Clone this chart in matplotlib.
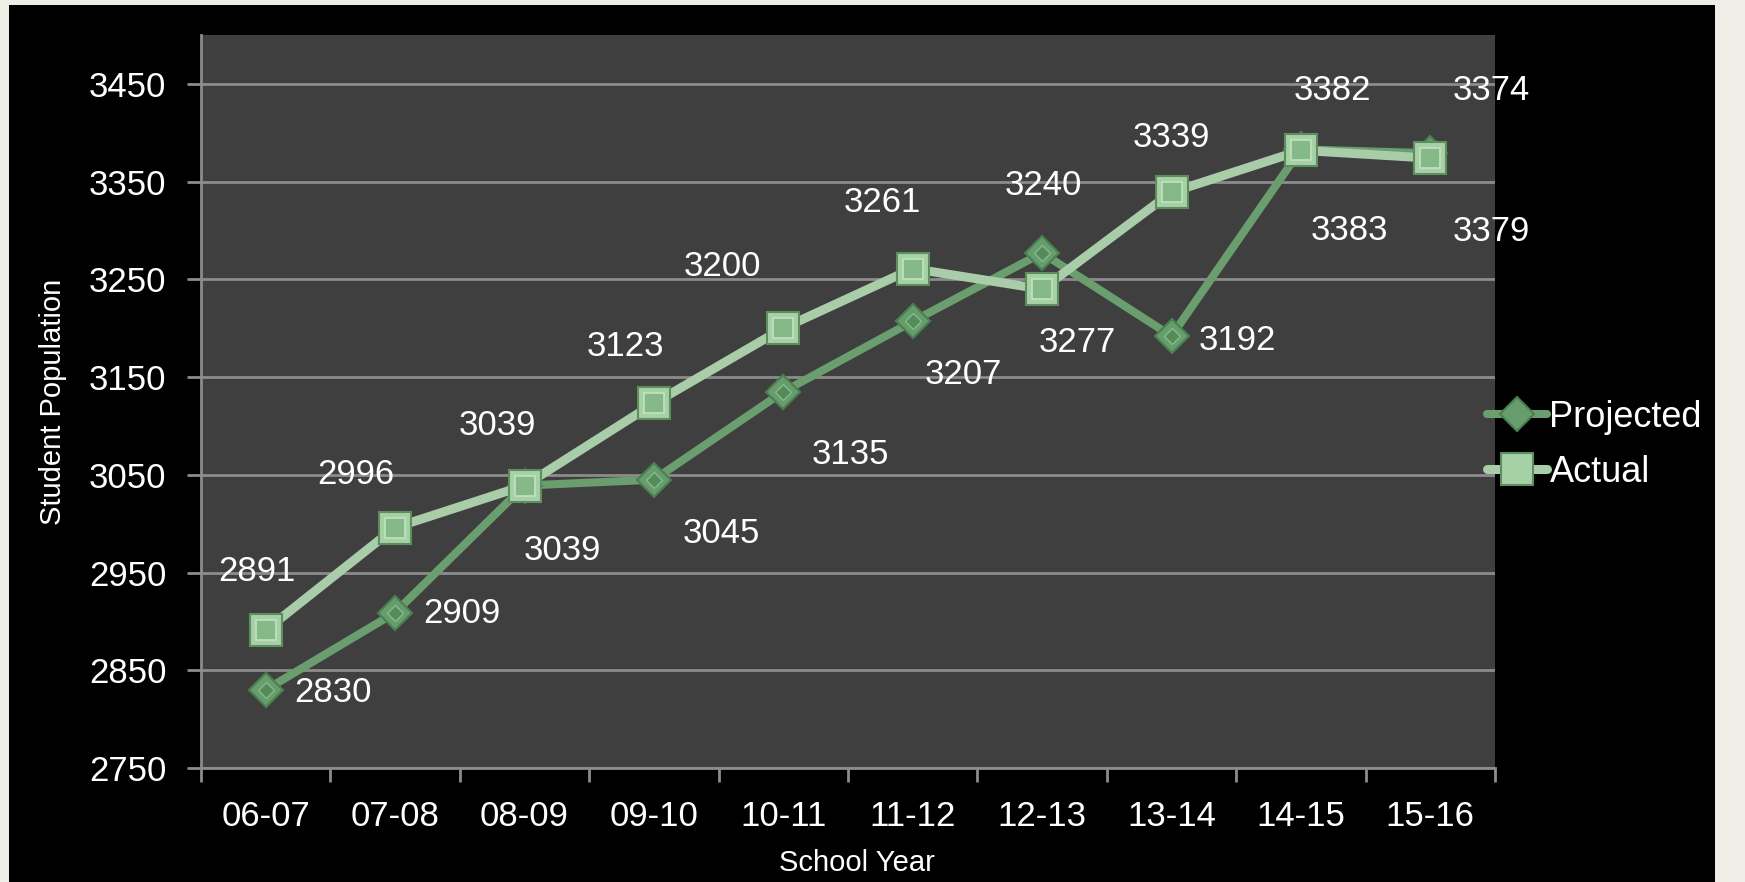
import matplotlib
matplotlib.use("Agg")
import matplotlib.pyplot as plt
from matplotlib.patches import Rectangle

# chart values
years = ["06-07", "07-08", "08-09", "09-10", "10-11", "11-12", "12-13", "13-14", "14-15", "15-16"]
projected = [2830, 2909, 3039, 3045, 3135, 3207, 3277, 3192, 3383, 3379]
actual = [2891, 2996, 3039, 3123, 3200, 3261, 3240, 3339, 3382, 3374]
y_ticks = [2750, 2850, 2950, 3050, 3150, 3250, 3350, 3450]

# hand placed data label offsets (pixels), like the original sheet
act_off = [(-9, 62), (-39, 56), (-27, 63), (-28, 60), (-61, 65), (-30, 69), (1, 107), (0, 58), (32, 63), (61, 71)]
proj_off = [(67, 0), (67, 2), (38, -62), (67, -51), (67, -60), (51, -50), (35, -87), (66, -1), (49, -78), (61, -75)]

plt.rcParams['font.family'] = ['Liberation Sans', 'DejaVu Sans']

W, H = 1745, 882
fig = plt.figure(figsize=(W / 100, H / 100), dpi=100)
fig.patch.set_facecolor("#eeeee6")
fig.add_artist(Rectangle((9 / W, 0), (1715 - 9) / W, (H - 5) / H, transform=fig.transFigure,
                         facecolor="black", edgecolor="none", zorder=0))

ax = fig.add_axes([201 / W, (H - 768) / H, (1495 - 201) / W, (768 - 35) / H])
ax.set_facecolor("#3f3f3f")

x = list(range(len(years)))
proj_col = "#6a9e6e"
act_col = "#a9cca9"

ax.plot(x, projected, color=proj_col, lw=5.8, zorder=3, solid_capstyle="round")
ax.plot(x, projected, ls="none", marker="D", ms=17, mfc="#679d6c", mec="#4a7f50", mew=1.5, zorder=3)
ax.plot(x, projected, ls="none", marker="D", ms=8, mfc="#558b5a", mec="#86ba89", mew=1, zorder=3)

ax.plot(x, actual, color=act_col, lw=6.5, zorder=4, solid_capstyle="round")
ax.plot(x, actual, ls="none", marker="s", ms=22.5, mfc="#a6d1a6", mec="#5e8e60", mew=1.5, zorder=4)
ax.plot(x, actual, ls="none", marker="s", ms=14, mfc="#86b988", mec="#c2e2c2", mew=1.2, zorder=4)

for i in x:
    ax.annotate(str(actual[i]), (i, actual[i]), xytext=(act_off[i][0], act_off[i][1] - 3),
                textcoords="offset pixels", ha="center", va="center", color="white", fontsize=25,
                zorder=6, annotation_clip=False)
    ax.annotate(str(projected[i]), (i, projected[i]), xytext=(proj_off[i][0], proj_off[i][1] - 3),
                textcoords="offset pixels", ha="center", va="center", color="white", fontsize=25,
                zorder=6, annotation_clip=False)

ax.set_xlim(-0.5, len(years) - 0.5)
ax.set_ylim(2750, 3500)
ax.set_yticks(y_ticks)
ax.set_xticks(x)
ax.set_xticklabels(years)
ax.set_xticks([i - 0.5 for i in range(len(years) + 1)], minor=True)
ax.tick_params(axis="x", which="major", length=0, pad=23, labelsize=25, labelcolor="white")
ax.tick_params(axis="x", which="minor", length=10, width=2, color="#8c8c8c", direction="out")
ax.tick_params(axis="y", length=10, width=2, color="#8c8c8c", pad=15, labelsize=25, labelcolor="white")

ax.grid(axis="y", color="#8c8c8c", lw=2, zorder=1)
ax.set_axisbelow(True)
for s in ["top", "right"]:
    ax.spines[s].set_visible(False)
for s in ["left", "bottom"]:
    ax.spines[s].set_color("#8c8c8c")
    ax.spines[s].set_linewidth(2)

fig.text(857 / W, 1 - 863 / H, "School Year", color="white", fontsize=21, ha="center", va="center")
fig.text(53 / W, 1 - 402 / H, "Student Population", color="white", fontsize=21, ha="center",
         va="center", rotation=90)

# legend handles, same style as the series
h1, = ax.plot([], [], color=proj_col, lw=5.8, marker="D", ms=17, mfc="#679d6c", mec="#4a7f50", mew=1.5,
              solid_capstyle="round")
h2, = ax.plot([], [], color=act_col, lw=6.5, marker="s", ms=22.5, mfc="#a6d1a6", mec="#5e8e60", mew=1.5,
              solid_capstyle="round")
leg = ax.legend([h1, h2], ["Projected", "Actual"], loc="center left", bbox_to_anchor=(1487 / W, 1 - 445 / H),
                bbox_transform=fig.transFigure, frameon=False, fontsize=26, labelcolor="white",
                handlelength=1.65, handletextpad=0.08, labelspacing=0.55, borderpad=0, borderaxespad=0)

fig.savefig("out.png", dpi=100, facecolor=fig.get_facecolor())
